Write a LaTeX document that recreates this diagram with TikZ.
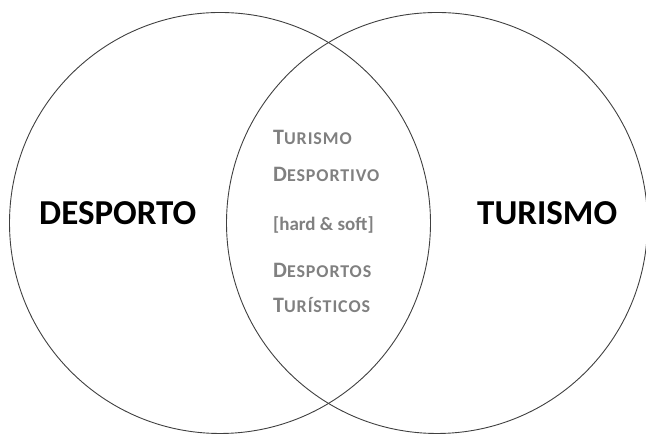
\documentclass[tikz,border=0pt]{standalone}
\usepackage{fontspec}
\setmainfont{Carlito}
\usepackage{tikz}

\definecolor{ringgray}{gray}{0.25}
\definecolor{lensgray}{gray}{0.5}
\newcommand{\scword}[2]{{\fontsize{22}{22}\selectfont #1}{\fontsize{18}{18}\selectfont\addfontfeature{LetterSpace=5}#2}}

\begin{document}
\begin{tikzpicture}[x=1pt, y=1pt,
  ring/.style={circle, draw=ringgray, line width=0.9pt, minimum size=421pt, inner sep=0pt},
  bigword/.style={anchor=base west, inner sep=0pt, font=\fontsize{35}{35}\selectfont\bfseries},
  lensword/.style={anchor=base west, inner sep=0pt, text=lensgray, font=\bfseries}]
\useasboundingbox (0,0) rectangle (646,435);

\draw
(220, 212) node[ring](desp){}
(437, 212) node[ring](tur){}

(39, 210) node[bigword](despw){DESPORTO}
(477, 210) node[bigword](turw){TURISMO}

(273, 290) node[lensword](l1){\scword{T}{URISMO}}
(273, 253) node[lensword](l2){\scword{D}{ESPORTIVO}}
(273, 204) node[lensword, font=\fontsize{19}{19}\selectfont\bfseries](l3){[hard \& soft]}
(273, 157) node[lensword](l4){\scword{D}{ESPORTOS}}
(273, 122) node[lensword](l5){\scword{T}{URÍSTICOS}};

\end{tikzpicture}
\end{document}
